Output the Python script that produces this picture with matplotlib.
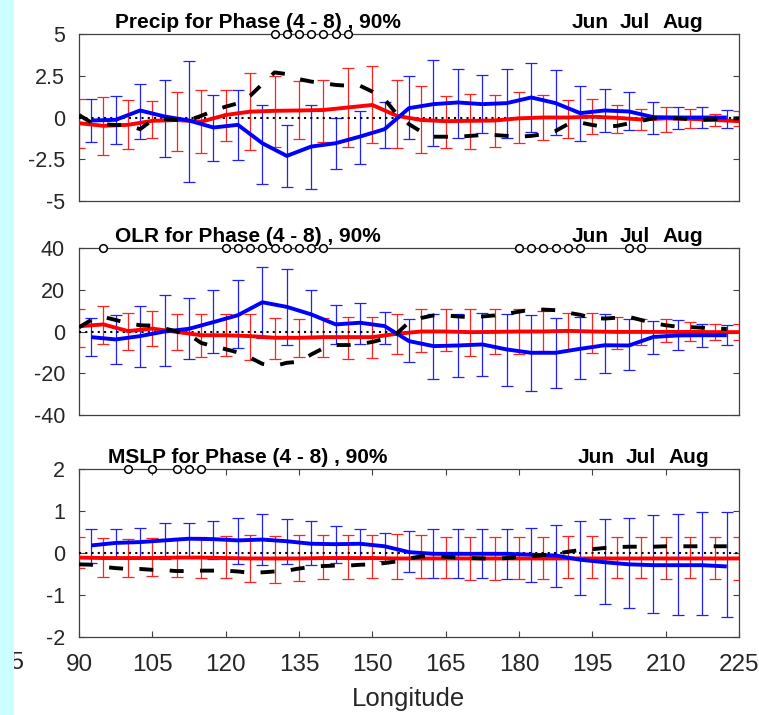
import numpy as np
import matplotlib
matplotlib.use("Agg")
import matplotlib.pyplot as plt
from matplotlib.patches import Rectangle

plt.rcParams['font.family'] = ['Liberation Sans', 'DejaVu Sans']
plt.rcParams['axes.unicode_minus'] = False

# ---------- data ----------
lon_red = np.arange(90, 226, 5)          # 90 .. 225
lon_blue = np.arange(92.5, 223, 5)       # 92.5 .. 222.5
lon_black_1 = np.arange(90, 226, 2.5)    # 90 .. 225
lon_black_23 = np.arange(90, 223, 2.5)   # 90 .. 222.5

# Precip
precip_red = [-0.34, -0.5, -0.44, -0.2, -0.15, -0.25, 0.15, 0.35, 0.4, 0.42, 0.45, 0.6, 0.75, 0.1,
              -0.15, -0.22, -0.2, -0.18, -0.05, 0.0, 0.0, 0.05, -0.02, -0.12, -0.05, -0.08, -0.15, -0.22]
precip_red_hi = [1.12, 1.22, 1.06, 0.96, 1.5, 1.62, 1.62, 2.66, 2.46, 2.16, 2.22, 2.94, 3.06, 2.26,
                 1.9, 1.26, 1.4, 1.36, 1.5, 1.32, 1.06, 1.1, 0.74, 0.5, 0.62, 0.5, 0.22, 0.36]
precip_red_lo = [-1.8, -2.24, -1.9, -1.24, -2.0, -2.1, -1.38, -1.94, -1.74, -1.3, -1.44, -1.74, -1.54, -1.84,
                 -2.1, -1.8, -1.88, -1.74, -1.54, -1.34, -1.24, -0.98, -0.9, -0.74, -0.84, -0.6, -0.5, -0.5]
precip_blue = [-0.18, -0.14, 0.42, 0.06, -0.18, -0.6, -0.44, -1.54, -2.3, -1.74, -1.54, -1.14, -0.7, 0.56,
               0.8, 0.9, 0.8, 0.86, 1.2, 0.86, 0.26, 0.42, 0.36, 0.02, 0.0, 0.0, 0.0]
precip_blue_hi = [1.1, 1.26, 2.02, 2.22, 3.4, 1.32, 1.66, 0.72, -0.46, 0.72, 0.0, 0.4, 0.9, 2.46,
                  3.42, 2.92, 2.54, 2.9, 3.26, 2.86, 1.86, 1.72, 1.5, 0.94, 0.62, 0.62, 0.46]
precip_blue_lo = [-1.44, -1.58, -1.28, -2.34, -3.84, -2.6, -2.54, -3.98, -4.18, -4.3, -3.1, -2.78, -1.84, -1.3,
                  -1.7, -1.2, -0.94, -1.2, -0.88, -1.04, -1.38, -0.88, -0.74, -1.0, -0.7, -0.6, -0.6]
precip_black = [0.15, -0.3, -0.4, -0.45, -0.45, -0.7, -0.15, -0.1, -0.15, -0.15, 0.1, 0.4, 0.65, 0.85,
                1.3, 2.0, 2.7, 2.6, 2.3, 2.15, 2.05, 1.95, 1.9, 1.9, 1.55, 1.1, 0.2, -0.4,
                -0.85, -1.15, -1.15, -1.15, -1.1, -1.05, -1.05, -1.1, -1.15, -1.1, -1.0, -0.8, -0.4, -0.3,
                -0.45, -0.55, -0.5, -0.35, -0.2, -0.05, -0.05, -0.05, -0.1, -0.15, -0.1, -0.05, -0.05]
precip_sig = [130, 132.5, 135, 137.5, 140, 142.5, 145]

# OLR
olr_red = [2.5, 3.4, 0.2, 1.4, -0.2, -1.8, -1.8, -2.2, -3.0, -3.0, -2.7, -2.7, -2.7, -1.1,
           0.0, 0.0, -0.3, -0.2, 0.0, 0.0, 0.3, 0.0, -0.2, -0.2, -0.2, -0.2, -0.3, -0.3]
olr_red_hi = [10.9, 12.2, 9.0, 9.8, 8.6, 8.2, 8.2, 8.6, 6.6, 6.0, 6.6, 7.0, 7.0, 8.2,
              10.6, 10.6, 10.9, 10.6, 10.6, 9.8, 9.0, 9.0, 6.9, 6.1, 5.8, 4.5, 3.8, 3.4]
olr_red_lo = [-7.5, -5.8, -9.1, -7.0, -9.0, -12.2, -11.5, -13.8, -13.1, -12.2, -12.3, -13.0, -12.6, -10.7,
              -9.9, -9.4, -11.5, -10.7, -11.0, -9.4, -9.0, -10.2, -8.3, -6.7, -5.0, -4.6, -4.2, -4.2]
olr_blue = [-2.7, -3.8, -2.2, 0.0, 1.3, 4.5, 7.8, 14.0, 11.8, 8.2, 3.4, 4.2, 2.6, -4.6,
            -7.0, -6.7, -6.2, -8.6, -10.2, -10.2, -8.3, -6.6, -6.7, -2.6, -1.9, -1.8, -1.8]
olr_blue_hi = [6.4, 7.8, 12.2, 17.3, 16.0, 19.8, 24.8, 30.9, 29.8, 20.0, 12.8, 13.8, 9.3, 5.8,
               8.2, 8.6, 9.0, 8.2, 7.7, 6.4, 6.9, 8.2, 5.8, 5.0, 5.3, 3.8, 2.9]
olr_blue_lo = [-11.8, -15.4, -17.1, -16.6, -13.4, -10.2, -7.8, -3.0, -6.4, -3.0, -6.2, -5.8, -5.8, -14.7,
               -22.7, -22.0, -21.1, -25.9, -28.3, -27.2, -22.6, -19.8, -18.6, -11.0, -9.1, -7.4, -6.7]
olr_black = [2.0, 5.5, 7.0, 5.5, 4.0, 3.0, 2.8, 1.5, 0.0, -1.5, -5.5, -7.0, -8.5, -10.0,
             -12.5, -15.5, -16.5, -15.0, -14.5, -11.0, -8.0, -6.5, -6.5, -6.0, -5.0, -3.5, -1.0, 4.5,
             6.5, 7.7, 7.7, 7.2, 6.9, 7.2, 7.7, 8.5, 9.5, 10.5, 10.5, 10.2, 9.0, 8.0,
             6.5, 6.2, 6.6, 7.0, 5.5, 4.0, 3.0, 2.3, 2.1, 1.8, 1.4, 1.2]
olr_sig = [95, 120, 122.5, 125, 127.5, 130, 132.5, 135, 137.5, 140,
           180, 182.5, 185, 187.5, 190, 192.5, 202.5, 205]

# MSLP
mslp_red = [-0.11, -0.12, -0.12, -0.12, -0.11, -0.11, -0.12, -0.13, -0.13, -0.13, -0.12, -0.12, -0.12, -0.13,
            -0.13, -0.13, -0.13, -0.13, -0.13, -0.13, -0.13, -0.13, -0.13, -0.13, -0.13, -0.13, -0.13, -0.13]
mslp_red_hi = [0.38, 0.36, 0.33, 0.36, 0.36, 0.38, 0.4, 0.42, 0.41, 0.44, 0.42, 0.44, 0.42, 0.45,
               0.42, 0.38, 0.38, 0.37, 0.37, 0.38, 0.4, 0.4, 0.38, 0.38, 0.38, 0.38, 0.38, 0.38]
mslp_red_lo = [-0.36, -0.57, -0.57, -0.54, -0.57, -0.59, -0.59, -0.69, -0.71, -0.67, -0.61, -0.61, -0.6, -0.61,
               -0.59, -0.59, -0.64, -0.64, -0.62, -0.62, -0.59, -0.59, -0.59, -0.59, -0.61, -0.59, -0.61, -0.64]
mslp_blue = [0.18, 0.24, 0.26, 0.3, 0.34, 0.33, 0.3, 0.32, 0.28, 0.22, 0.21, 0.22, 0.16, 0.02,
             -0.02, -0.02, -0.02, -0.02, -0.04, -0.06, -0.16, -0.22, -0.27, -0.29, -0.29, -0.29, -0.32]
mslp_blue_hi = [0.58, 0.58, 0.6, 0.72, 0.72, 0.76, 0.84, 0.92, 0.82, 0.76, 0.64, 0.57, 0.48, 0.53,
                0.58, 0.56, 0.58, 0.58, 0.6, 0.66, 0.76, 0.82, 0.84, 0.9, 0.94, 0.97, 0.98]
mslp_blue_lo = [-0.24, -0.12, -0.1, -0.14, -0.1, -0.14, -0.25, -0.29, -0.27, -0.29, -0.24, -0.15, -0.18, -0.45,
                -0.59, -0.59, -0.6, -0.61, -0.69, -0.81, -1.01, -1.21, -1.31, -1.43, -1.47, -1.48, -1.53]
mslp_black = [-0.27, -0.28, -0.33, -0.36, -0.38, -0.38, -0.4, -0.41, -0.43, -0.43, -0.42, -0.42, -0.42, -0.44,
              -0.47, -0.46, -0.44, -0.42, -0.37, -0.33, -0.31, -0.3, -0.3, -0.28, -0.27, -0.24, -0.2, -0.13,
              -0.08, -0.08, -0.09, -0.11, -0.12, -0.13, -0.14, -0.12, -0.1, -0.08, -0.05, -0.02, 0.03, 0.07,
              0.09, 0.12, 0.14, 0.15, 0.15, 0.15, 0.16, 0.16, 0.16, 0.16, 0.16, 0.16]
mslp_sig = [100, 105, 110, 112.5, 115]

titles = ["Precip for Phase (4 - 8) , 90%", "OLR for Phase (4 - 8) , 90%", "MSLP for Phase (4 - 8) , 90%"]
months = ["Jun", "Jul", "Aug"]
xticks = [90, 105, 120, 135, 150, 165, 180, 195, 210, 225]

panels = [
    dict(red=precip_red, red_hi=precip_red_hi, red_lo=precip_red_lo,
         blue=precip_blue, blue_hi=precip_blue_hi, blue_lo=precip_blue_lo,
         black_x=lon_black_1, black=precip_black, sig=precip_sig,
         ylim=(-5, 5), yticks=[-5, -2.5, 0, 2.5, 5], ylabels=["-5", "-2.5", "0", "2.5", "5"]),
    dict(red=olr_red, red_hi=olr_red_hi, red_lo=olr_red_lo,
         blue=olr_blue, blue_hi=olr_blue_hi, blue_lo=olr_blue_lo,
         black_x=lon_black_23, black=olr_black, sig=olr_sig,
         ylim=(-40, 40), yticks=[-40, -20, 0, 20, 40], ylabels=["-40", "-20", "0", "20", "40"]),
    dict(red=mslp_red, red_hi=mslp_red_hi, red_lo=mslp_red_lo,
         blue=mslp_blue, blue_hi=mslp_blue_hi, blue_lo=mslp_blue_lo,
         black_x=lon_black_23, black=mslp_black, sig=mslp_sig,
         ylim=(-2, 2), yticks=[-2, -1, 0, 1, 2], ylabels=["-2", "-1", "0", "1", "2"]),
]

# ---------- layout (figure pixels -> fractions) ----------
W, H = 759, 715
fig = plt.figure(figsize=(W / 100, H / 100), dpi=100)
ax_left, ax_right = 79, 739
ax_tops = [34, 248, 469]
ax_bots = [201, 415, 637]
title_x = [115, 115, 108]
month_x = [[572, 620, 662], [572, 620, 662], [578, 626, 668]]

edge = '#404040'
for i, p in enumerate(panels):
    ax = fig.add_axes([ax_left / W, 1 - ax_bots[i] / H,
                       (ax_right - ax_left) / W, (ax_bots[i] - ax_tops[i]) / H])
    red = np.array(p['red'])
    blue = np.array(p['blue'])
    ax.errorbar(lon_red, red, yerr=[red - np.array(p['red_lo']), np.array(p['red_hi']) - red],
                fmt='none', ecolor='#ff2020', elinewidth=0.9, capsize=4, capthick=0.9, zorder=2)
    ax.errorbar(lon_blue, blue, yerr=[blue - np.array(p['blue_lo']), np.array(p['blue_hi']) - blue],
                fmt='none', ecolor='#2020ff', elinewidth=0.9, capsize=4, capthick=0.9, zorder=2)
    ax.axhline(0, color='black', lw=1.5, dashes=(1, 2), zorder=3)
    ax.plot(lon_red, red, color='red', lw=2.8, zorder=4, solid_capstyle='butt')
    ax.plot(lon_blue, blue, color='blue', lw=2.8, zorder=5, solid_capstyle='butt')
    ax.plot(p['black_x'], p['black'], color='black', lw=2.8, dashes=(3.6, 4.2), zorder=6)
    ax.plot(p['sig'], [p['ylim'][1]] * len(p['sig']), 'o', mfc='white', mec='black',
            ms=5.5, mew=1.1, clip_on=False, zorder=7)

    ax.set_xlim(90, 225)
    ax.set_ylim(*p['ylim'])
    ax.set_yticks(p['yticks'])
    ax.set_yticklabels(p['ylabels'])
    for s in ax.spines.values():
        s.set_color(edge)
        s.set_linewidth(0.9)
    ax.tick_params(axis='y', direction='in', left=True, right=True, length=4.5,
                   width=0.8, color=edge, labelsize=15.5, labelcolor='#262626', pad=10)
    if i < 2:
        ax.set_xticks([])
    else:
        ax.set_xticks(xticks)
        ax.set_xticklabels([str(t) for t in xticks])
        ax.tick_params(axis='x', direction='in', top=True, bottom=True, length=4.5,
                       width=0.8, color=edge, labelsize=17.5, labelcolor='#262626', pad=12.5)
        ax.set_xlabel("Longitude", fontsize=18.5, color='#262626', labelpad=7.5)

    # title and month labels
    ybase = 1 + 5.5 / (ax_bots[i] - ax_tops[i])
    ax.text((title_x[i] - ax_left) / (ax_right - ax_left), ybase, titles[i],
            transform=ax.transAxes, fontsize=15, fontweight='bold', ha='left', va='baseline')
    for m, mx in zip(months, month_x[i]):
        ax.text((mx - ax_left) / (ax_right - ax_left), ybase, m,
                transform=ax.transAxes, fontsize=15, fontweight='bold', ha='left', va='baseline')

# cut-off "75" tick label at the far left, then the cyan strip over it
fig.text(25 / W, 1 - 663 / H, "75", fontsize=17.5, color='#262626', ha='right', va='center')
fig.add_artist(Rectangle((0, 0), 14 / W, 1, transform=fig.transFigure,
                         facecolor='#ccffff', edgecolor='none', zorder=10))

fig.savefig("out.png", dpi=100)
